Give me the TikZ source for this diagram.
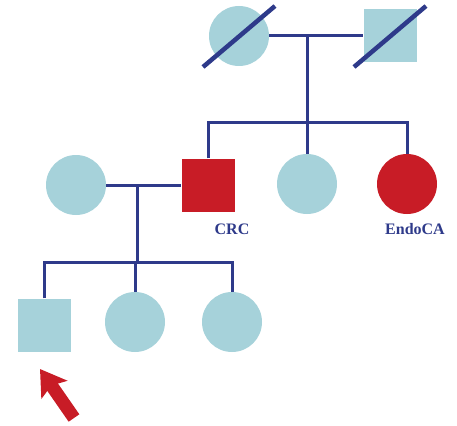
\documentclass[tikz,border=0pt]{standalone}
\usepackage{fontspec}
\newfontfamily\labelfont{Liberation Serif}
\usepackage{xcolor}
\definecolor{pedblue}{RGB}{166,210,218}
\definecolor{pedred}{RGB}{200,28,38}
\definecolor{pednavy}{RGB}{46,58,138}
\usetikzlibrary{arrows.meta,calc}

\tikzset{
  female/.style={circle,fill=pedblue,minimum size=60pt,inner sep=0pt},
  male/.style={rectangle,fill=pedblue,minimum size=53pt,inner sep=0pt},
  affected/.style={fill=pedred},
  pedline/.style={line width=3pt,draw=pednavy},
  deceased/.style={line width=4.5pt,draw=pednavy},
  diag/.style={font=\labelfont\fontsize{16}{18}\selectfont\bfseries,text=pednavy}
}

\begin{document}
\begin{tikzpicture}[x=1pt,y=-1pt]
  \useasboundingbox (0,0) rectangle (457,425);
  % Grandparents
  \node[female] (gm) at (239,36) {};
  \node[male]   (gf) at (390,36) {};
  \coordinate (m1)   at (307,36);
  \coordinate (sib1) at (307,122);
  % Second generation
  \node[female]          (wife) at (76,185)  {};
  \node[male,affected]   (crc)  at (208,185) {};
  \node[female]          (sis)  at (307,184) {};
  \node[female,affected] (endo) at (407,184) {};
  \node[diag] (lcrc)  at (232,229) {CRC};
  \node[diag] (lendo) at (415,229) {EndoCA};
  \coordinate (m2)   at (137,185);
  \coordinate (sib2) at (137,262);
  % Third generation
  \node[male]   (pro) at (44,325)  {};
  \node[female] (d1)  at (135,322) {};
  \node[female] (d2)  at (232,322) {};
  % Lines of descent
  \draw[pedline] (gm.east) -- (gf.west);
  \draw[pedline] (sis.north) -- (m1);
  \draw[pedline] (crc.north) -- (crc |- sib1) -- (endo |- sib1) -- (endo.north);
  \draw[pedline] (wife.east) -- (crc.west);
  \draw[pedline] (m2) -- (sib2);
  \draw[pedline] (pro.north) -- (pro |- sib2) -- (d2 |- sib2) -- (d2.north);
  \draw[pedline] (d1.north) -- (d1 |- sib2);
  % Deceased marks
  \foreach \p in {gm,gf}
    \draw[deceased] ($(\p)+(-36,31)$) -- ($(\p)+(36,-30)$);
  % Proband arrow
  \coordinate (arrtail) at (74,418);
  \coordinate (arrtip)  at (40,369);
  \draw[line width=13pt,pedred,-{Stealth[length=25pt,width=31pt,inset=5pt]}]
    (arrtail) -- (arrtip);
\end{tikzpicture}
\end{document}
